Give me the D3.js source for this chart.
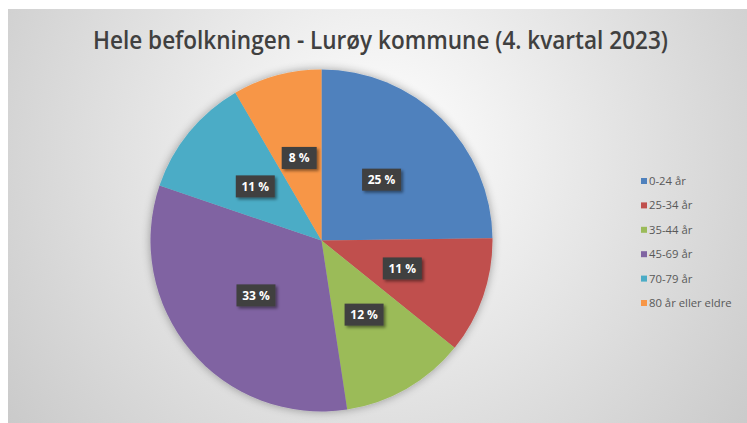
<!DOCTYPE html>
<html>
<head>
<meta charset="utf-8">
<script src="https://cdn.jsdelivr.net/npm/d3@7"></script>
<style>
  body { margin: 0; background: #fff; }
  svg { display: block; }
</style>
</head>
<body>
<script>
var categories = ["0-24 år", "25-34 år", "35-44 år", "45-69 år", "70-79 år", "80 år eller eldre"];
var shares = [24.8, 11.0, 11.8, 32.6, 11.4, 8.4];
var colors = ["#4F81BD", "#C0504D", "#9BBB59", "#8064A2", "#4BACC6", "#F79646"];
var title = "Hele befolkningen - Lurøy kommune (4. kvartal 2023)";

var svg = d3.select("body").append("svg")
    .attr("width", 747)
    .attr("height", 423);

var defs = svg.append("defs");

var bg = defs.append("radialGradient")
    .attr("id", "bg")
    .attr("gradientUnits", "userSpaceOnUse")
    .attr("cx", 380).attr("cy", 150).attr("r", 470);
bg.append("stop").attr("offset", "0%").attr("stop-color", "#ffffff");
bg.append("stop").attr("offset", "100%").attr("stop-color", "#c9c9c9");

var glow = defs.append("filter").attr("id", "glow")
    .attr("x", "-20%").attr("y", "-20%").attr("width", "140%").attr("height", "140%");
glow.append("feGaussianBlur").attr("in", "SourceAlpha").attr("stdDeviation", 5);
glow.append("feComponentTransfer").append("feFuncA").attr("type", "linear").attr("slope", 0.35);
var gm = glow.append("feMerge");
gm.append("feMergeNode");
gm.append("feMergeNode").attr("in", "SourceGraphic");

var drop = defs.append("filter").attr("id", "drop")
    .attr("x", "-30%").attr("y", "-30%").attr("width", "170%").attr("height", "170%");
drop.append("feDropShadow").attr("dx", 2).attr("dy", 2).attr("stdDeviation", 1.5)
    .attr("flood-color", "#000").attr("flood-opacity", 0.45);

// chart area
svg.append("rect")
    .attr("x", 8).attr("y", 9)
    .attr("width", 747 - 8).attr("height", 423 - 9)
    .attr("fill", "url(#bg)");

svg.append("text")
    .attr("x", 380.5)
    .attr("y", 49)
    .attr("text-anchor", "middle")
    .attr("fill", "#404040")
    .attr("font-family", "'Open Sans', sans-serif")
    .attr("font-weight", 600)
    .attr("font-size", 24.5)
    .attr("textLength", 575)
    .attr("lengthAdjust", "spacingAndGlyphs")
    .text(title);

var radius = 171;
var g = svg.append("g").attr("transform", "translate(321.5,240.5)");

var pie = d3.pie().sort(null).value(function (d) { return d; });
var arc = d3.arc().innerRadius(0).outerRadius(radius);
var labelArc = d3.arc().innerRadius(0).outerRadius(radius);

var arcs = pie(shares);

g.append("g")
    .attr("filter", "url(#glow)")
    .selectAll("path")
    .data(arcs)
    .enter().append("path")
    .attr("d", arc)
    .attr("fill", function (d, i) { return colors[i]; });

var label = g.selectAll(".lbl")
    .data(arcs)
    .enter().append("g")
    .attr("class", "lbl")
    .attr("transform", function (d) { return "translate(" + labelArc.centroid(d) + ")"; });

label.append("rect")
    .attr("x", function (d) { return Math.round(d.data) < 10 ? -17.5 : -19.5; })
    .attr("y", -11)
    .attr("width", function (d) { return Math.round(d.data) < 10 ? 35 : 39; })
    .attr("height", 22)
    .attr("fill", "#404040")
    .attr("filter", "url(#drop)");

label.append("text")
    .attr("text-anchor", "middle")
    .attr("dy", "0.36em")
    .attr("fill", "#ffffff")
    .attr("font-family", "'Open Sans', sans-serif")
    .attr("font-weight", 700)
    .attr("font-size", 12)
    .text(function (d) { return Math.round(d.data) + " %"; });

var legend = svg.append("g")
    .attr("transform", "translate(641,181)")
    .selectAll("g")
    .data(categories)
    .enter().append("g")
    .attr("transform", function (d, i) { return "translate(0," + (i * 24.4) + ")"; });

legend.append("rect")
    .attr("x", 0).attr("y", -3)
    .attr("width", 6).attr("height", 6)
    .attr("fill", function (d, i) { return colors[i]; });

legend.append("text")
    .attr("x", 8)
    .attr("dy", "0.35em")
    .attr("fill", "#595959")
    .attr("font-family", "'Open Sans', sans-serif")
    .attr("font-size", 11.3)
    .text(function (d) { return d; });
</script>
</body>
</html>
